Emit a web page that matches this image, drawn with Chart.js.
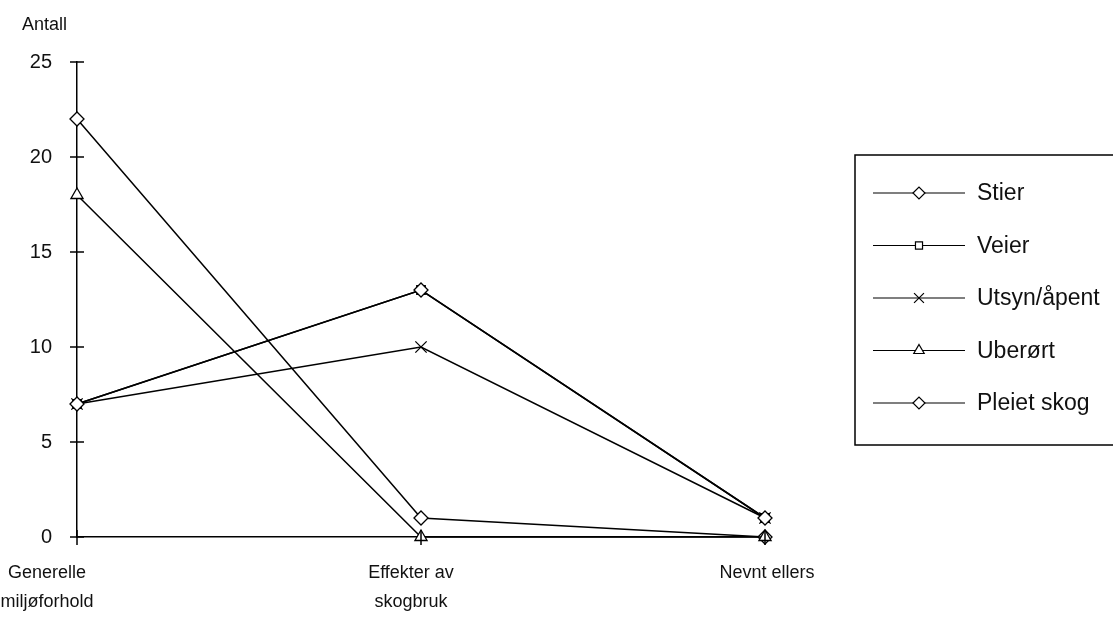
<!DOCTYPE html>
<html>
<head>
<meta charset="utf-8">
<script src="https://cdn.jsdelivr.net/npm/chart.js@4"></script>
<style>
  html, body { margin: 0; padding: 0; background: #fff; }
  canvas { display: block; }
</style>
</head>
<body>
<canvas id="chart" width="1113" height="619"></canvas>
<script>
// Categories on the x axis (two-line labels)
const categories = [
    ["Generelle", "miljøforhold"],
    ["Effekter av", "skogbruk"],
    ["Nevnt ellers"]
];

// Counts
const stier = [7, 13, 1];
const veier = [7, 13, 1];
const utsyn = [7, 10, 1];
const uberort = [18, 0, 0];
const pleietSkog = [22, 1, 0];

const seriesNames = ["Stier", "Veier", "Utsyn/åpent", "Uberørt", "Pleiet skog"];
const yTicks = [0, 5, 10, 15, 20, 25];

const FONT = "'Liberation Sans', Arial, sans-serif";
const INK = "#000";

function makeSet(label, data, style, radius) {
    return {
        label: label,
        data: data,
        borderColor: INK,
        borderWidth: 1.5,
        tension: 0,
        clip: false,
        pointStyle: style,
        pointRadius: radius,
        pointBackgroundColor: "#fff",
        pointBorderColor: INK,
        pointBorderWidth: 1.3
    };
}

// Axis extras: cross ticks and "Antall" title, labels under the x axis
const axisExtras = {
    id: "axisExtras",
    afterDraw(chart) {
        const c = chart.ctx;
        const xs = chart.scales.x;
        const ys = chart.scales.y;
        c.save();
        c.strokeStyle = INK;
        c.lineWidth = 1.5;
        // y ticks cross the axis
        yTicks.forEach(v => {
            const py = ys.getPixelForValue(v);
            c.beginPath();
            c.moveTo(xs.left - 7, py);
            c.lineTo(xs.left + 7, py);
            c.stroke();
        });
        // x ticks at each category
        categories.forEach((_, i) => {
            const px = xs.getPixelForValue(i);
            c.beginPath();
            c.moveTo(px, ys.bottom - 7);
            c.lineTo(px, ys.bottom + 8);
            c.stroke();
        });
        // x labels
        c.fillStyle = "#111";
        c.font = "18px " + FONT;
        c.textAlign = "center";
        c.textBaseline = "middle";
        const shift = [-30, -10, 2];
        categories.forEach((lab, i) => {
            const px = xs.getPixelForValue(i) + shift[i];
            lab.forEach((line, j) => {
                c.fillText(line, px, ys.bottom + 36 + j * 29);
            });
        });
        // axis title
        c.font = "18px " + FONT;
        c.textAlign = "left";
        c.fillText("Antall", 22, 25);
        c.restore();
    }
};

// Legend box with line + marker samples
const boxLegend = {
    id: "boxLegend",
    afterDraw(chart) {
        const c = chart.ctx;
        c.save();
        c.strokeStyle = INK;
        c.lineWidth = 1.5;
        c.strokeRect(855, 155, 300, 290);
        chart.data.datasets.forEach((ds, i) => {
            const y = 193 + i * 52.5;
            c.strokeStyle = INK;
            c.lineWidth = 1.2;
            c.beginPath();
            c.moveTo(873, y);
            c.lineTo(965, y);
            c.stroke();
            c.fillStyle = "#fff";
            Chart.helpers.drawPoint(c, {
                pointStyle: ds.pointStyle,
                radius: ds.pointRadius - 1,
                rotation: 0,
                borderWidth: 1.2
            }, 919, y);
            c.fillStyle = "#111";
            c.font = "23px " + FONT;
            c.textAlign = "left";
            c.textBaseline = "middle";
            c.fillText(ds.label, 977, y + 1);
        });
        c.restore();
    }
};

new Chart(document.getElementById("chart"), {
    type: "line",
    data: {
        labels: categories,
        datasets: [
            makeSet(seriesNames[0], stier, "rectRot", 7),
            makeSet(seriesNames[1], veier, "rect", 6),
            makeSet(seriesNames[2], utsyn, "crossRot", 8),
            makeSet(seriesNames[3], uberort, "triangle", 7),
            makeSet(seriesNames[4], pleietSkog, "rectRot", 7)
        ]
    },
    options: {
        responsive: false,
        animation: false,
        layout: { padding: { left: 0, top: 62, right: 348, bottom: 0 } },
        plugins: {
            legend: { display: false },
            tooltip: { enabled: false }
        },
        scales: {
            x: {
                type: "category",
                offset: false,
                grid: { display: true, drawOnChartArea: false, drawTicks: false },
                border: { display: true, color: INK, width: 1.5 },
                ticks: { display: false },
                afterFit: s => { s.height = 82; }
            },
            y: {
                min: 0,
                max: 25,
                afterBuildTicks: s => { s.ticks = yTicks.map(v => ({ value: v })); },
                grid: { display: true, drawOnChartArea: false, drawTicks: false },
                border: { display: true, color: INK, width: 1.5 },
                ticks: {
                    padding: 25,
                    color: "#111",
                    font: { family: FONT, size: 20 }
                },
                afterFit: s => { s.width = 77; }
            }
        }
    },
    plugins: [axisExtras, boxLegend]
});
</script>
</body>
</html>
